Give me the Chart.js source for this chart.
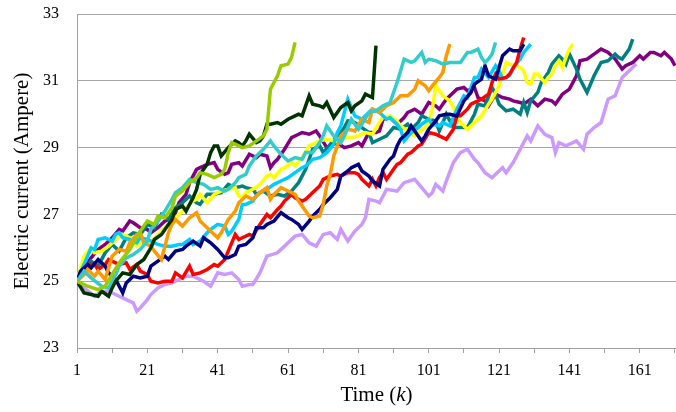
<!DOCTYPE html>
<html lang="en">
<head>
    <meta charset="UTF-8">
    <title>Electric current over time</title>
    <script src="https://cdn.jsdelivr.net/npm/chart.js"></script>
    <style>
        body { margin: 0; background: #fff; }
        #wrap { width: 676px; height: 412px; }
    </style>
</head>
<body>
<div id="wrap"><canvas id="currentChart"></canvas></div>

<script>
    // Measured runs: [time step k, current in A]
    const limeRun = [[1,25],[4,24.85],[7,24.75],[9,24.85],[11,25.2],[13,25.55],[16,25.95],[19,26.5],[21,26.8],[23,26.7],[24,26.95],[26,26.9],[28,27.2],[29,27.55],[31,27.7],[33,27.95],[35,28.1],[36,28.25],[38,28.2],[40,28.1],[42,28.2],[43,28.35],[44,28.85],[45,29.15],[47,29.05],[48,29],[50,29.05],[52,29.2],[54,29.35],[55,29.55],[56,30.75],[58,31.15],[59,31.45],[61,31.5],[62,31.7],[63,32.15]];
    const darkGreenRun = [[1,25],[3,24.65],[5,24.6],[7,24.55],[8,24.7],[10,24.55],[11,24.8],[12,25],[14,25.25],[16,25.2],[18,25.5],[20,25.65],[22,26],[23,26.25],[25,26.4],[27,26.7],[28,26.85],[29,27.15],[31,27.25],[32,27.1],[34,27.5],[35,27.75],[36,28.2],[38,28.5],[39,28.85],[40,29.05],[41,29.05],[42,28.75],[44,29],[46,29.2],[47,29.15],[48,29.05],[49,29.2],[50,29.4],[52,29.15],[53,29.2],[54,29.35],[55,29.7],[56,29.7],[58,29.75],[59,29.7],[61,29.85],[63,29.95],[64,30],[65,29.95],[67,30.55],[68,30.3],[70,30.25],[71,30.2],[72,30.35],[74,29.9],[76,30.2],[78,30.35],[79,30.1],[80,30.25],[82,30.4],[83,30.6],[85,30.5],[86,32.05]];
    const turquoiseRun = [[1,25],[3,25.3],[5,25.1],[8,24.85],[10,24.8],[12,25.2],[13,25.45],[15,25.7],[17,25.8],[19,25.95],[21,26.2],[22,26.55],[24,26.8],[26,27.1],[28,27.45],[29,27.65],[31,27.8],[33,28.05],[35,27.95],[37,27.9],[39,27.75],[41,27.8],[43,27.7],[44,27.75],[46,27.95],[47,28.1],[49,28.2],[50,28.45],[52,28.75],[54,28.95],[56,29.2],[57,29.05],[59,28.8],[61,28.6],[63,28.7],[65,28.65],[66,28.85],[68,28.85],[70,29.15],[71,29.35],[72,29.65],[74,29.35],[76,29.15],[77,29.35],[79,29.85],[81,29.55],[82,29.7],[84,30.05],[86,30.1],[88,30.25],[90,30.35],[91,30.65],[92,30.95],[94,31.65],[96,31.55],[97,31.6],[99,31.85],[100,31.55],[101,31.65],[103,31.6],[105,31.5],[107,31.55],[109,31.55],[110,31.55],[112,31.85],[113,31.85],[115,31.95],[116,31.7],[117,31.55],[118,31.65],[119,31.8],[120,32.15]];
    const orangeRun = [[1,25],[3,25.2],[4,25.35],[6,25.15],[7,25.3],[9,25.05],[10,25.4],[11,25.75],[13,25.95],[15,25.9],[16,26.15],[18,26.4],[19,26.45],[20,26.15],[22,26.05],[23,25.9],[25,25.65],[26,26.05],[27,26.45],[28,26.7],[29,26.85],[31,26.65],[33,26.9],[35,27.05],[36,26.8],[38,26.6],[40,26.4],[41,26.3],[42,26.45],[44,26.85],[46,27.1],[47,27.35],[49,27.55],[51,27.45],[53,27.65],[55,27.8],[56,27.45],[57,27.6],[59,27.8],[61,27.7],[63,27.6],[64,27.4],[66,27.1],[67,26.95],[68,26.9],[70,26.95],[71,27.3],[72,27.85],[73,28.2],[74,28.75],[76,29.35],[78,29.55],[80,29.5],[82,29.85],[84,29.75],[85,30.15],[87,30.05],[89,30.25],[91,30.35],[93,30.55],[95,30.55],[97,30.75],[98,31],[100,30.85],[101,30.7],[102,30.85],[104,31.1],[105,31.25],[106,31.75],[107,32.1]];
    const navyRun = [[1,25],[2,25.3],[4,25.5],[5,25.4],[7,25.65],[9,25.45],[10,25.25],[12,25.05],[14,24.65],[15,24.95],[17,25.15],[19,25.1],[21,25.15],[22,25.45],[24,25.6],[26,25.75],[27,25.65],[29,25.9],[31,25.95],[32,26.05],[34,26.2],[36,26.05],[37,26.3],[39,26.15],[41,25.95],[43,25.7],[44,25.7],[46,25.8],[47,26.05],[49,26.1],[51,26.3],[52,26.6],[54,26.6],[55,26.7],[57,26.8],[59,27.05],[61,26.9],[62,26.85],[64,26.7],[65,26.55],[67,26.8],[68,26.95],[70,27.15],[71,27.3],[73,27.5],[75,27.75],[76,28.15],[78,28.3],[79,28.4],[81,28.5],[82,28.3],[84,28.15],[85,28],[87,27.85],[88,28.35],[90,28.65],[91,28.75],[92,29.05],[93,29.25],[95,29.45],[96,29.65],[98,29.35],[99,29.2],[100,29.35],[101,29.55],[103,29.8],[104,29.95],[106,30],[107,30],[109,29.95],[111,30.4],[113,30.65],[114,30.9],[116,31.05],[117,31.45],[118,31.15],[120,31.05],[121,31.4],[122,31.75],[124,31.95],[125,31.9],[127,31.9],[128,32.1]];
    const redRun = [[1,25],[2,25.2],[4,25.5],[6,25.5],[7,25.35],[9,25.5],[10,25.65],[12,25.55],[13,25.5],[15,25.55],[16,25.35],[18,25.5],[19,25.3],[21,25.2],[22,25],[24,24.95],[26,25],[28,25],[29,25.25],[31,25.1],[33,25.45],[34,25.2],[36,25.25],[38,25.35],[40,25.5],[41,25.45],[43,25.65],[44,25.9],[46,26.4],[47,26.25],[48,26.3],[50,26.4],[51,26.35],[53,26.7],[55,27],[56,26.9],[58,27.15],[59,27.25],[60,27.4],[62,27.6],[63,27.5],[65,27.4],[66,27.45],[67,27.55],[69,27.75],[70,27.85],[71,28.05],[73,28.15],[75,28.2],[76,28.15],[78,28.25],[80,28.25],[81,28.2],[82,28.05],[84,27.85],[85,28.05],[86,27.85],[87,28.1],[88,28.25],[89,28.05],[91,28.35],[92,28.5],[93,28.55],[95,28.8],[96,28.85],[98,29.05],[99,29.1],[101,29.45],[103,29.4],[104,29.35],[106,29.25],[107,29.4],[108,29.55],[109,29.95],[110,29.95],[112,30.15],[113,30.3],[115,30.4],[116,30.45],[118,30.6],[119,30.95],[120,31.2],[121,31.05],[123,31.1],[124,31.2],[126,31.55],[127,31.95],[128,32.3]];
    const skyRun = [[1,25],[3,25.5],[5,26],[6,25.95],[7,26.25],[9,26.3],[11,26.2],[12,26.4],[13,26.45],[14,26.3],[16,26.25],[18,26.15],[19,26.3],[21,26.25],[22,26.2],[24,26.1],[26,26.05],[28,26.05],[30,26.1],[31,26.1],[33,26.25],[34,26.1],[36,26.2],[38,26.45],[39,26.55],[41,26.7],[43,26.65],[44,26.4],[45,26.5],[47,26.85],[48,27.3],[49,27.3],[51,27.4],[52,27.55],[53,27.65],[55,27.75],[57,27.9],[59,28],[61,28.1],[63,28.25],[65,28.4],[66,28.45],[68,28.65],[70,28.7],[72,28.85],[74,29.1],[75,29.45],[76,29.65],[77,30.05],[78,30.45],[79,30.2],[80,29.95],[82,29.85],[83,29.95],[85,30.15],[87,30.05],[89,29.85],[90,29.9],[92,29.7],[93,29.55],[94,29.2],[96,29.45],[98,29.6],[99,29.7],[101,29.85],[102,29.7],[104,29.65],[105,29.75],[107,29.65],[109,30.15],[111,30.55],[112,30.5],[114,31.1],[115,31.1],[116,31.35],[118,31.1],[120,31.45],[121,31.3],[122,31.05],[124,31.15],[125,31.4],[127,31.65],[128,31.85],[130,32.1]];
    const yellowRun = [[1,25],[3,25.75],[5,26],[6,25.85],[8,25.9],[10,26.05],[12,26.25],[14,26.4],[16,26.3],[18,26.05],[20,26.2],[22,26.15],[24,26.4],[26,26.6],[28,26.8],[30,27],[32,27.2],[34,27.4],[35,27.45],[36,27.6],[38,27.35],[40,27.6],[42,27.7],[44,27.75],[46,27.8],[47,27.55],[48,27.5],[49,27.65],[51,27.75],[53,27.9],[55,28.15],[56,28.2],[57,28.1],[59,28.35],[60,28.4],[62,28.55],[63,28.45],[65,28.7],[67,29.05],[68,29.1],[70,29.2],[72,29.25],[74,29.2],[76,29.15],[77,29.3],[79,29.3],[81,29.35],[83,29.45],[85,29.4],[87,29.75],[88,29.9],[90,29.95],[92,29.8],[93,29.65],[95,29.5],[97,29.35],[98,29.45],[100,29.6],[101,29.75],[102,30.15],[103,30.85],[104,30.7],[105,30.55],[107,30.4],[108,30.2],[109,29.95],[110,29.75],[112,29.55],[114,29.75],[116,29.95],[118,30.3],[119,30.45],[121,30.85],[122,31.2],[123,31.55],[124,31.5],[126,31.45],[127,31.4],[128,31.3],[129,30.95],[130,30.9],[131,31.2],[132,31.2],[134,30.95],[135,31.1],[136,31.2],[137,31.45],[138,31.6],[139,31.4],[140,31.7],[141,31.95],[142,32.1]];
    const tealRun = [[1,25],[3,25.3],[5,25.6],[7,25.45],[9,25.85],[11,26.1],[13,25.9],[15,26.3],[17,26.45],[19,26.4],[21,26.7],[23,26.6],[25,27],[27,26.85],[29,27.2],[31,27.35],[33,27.55],[35,27.35],[36,27.3],[38,27.6],[40,27.6],[42,27.65],[44,27.9],[46,27.8],[48,27.85],[49,27.8],[51,27.75],[52,27.6],[54,27.7],[56,27.55],[58,27.6],[60,27.55],[62,27.7],[64,27.95],[66,28.35],[68,28.95],[70,29.05],[71,28.85],[73,29.1],[75,29.35],[77,29.6],[78,29.8],[80,29.75],[82,29.6],[84,29.45],[85,29.15],[87,29.25],[89,29.35],[91,29.6],[93,29.55],[95,29.7],[96,29.55],[98,29.75],[99,29.95],[101,29.85],[103,29.8],[104,29.5],[106,30],[108,29.6],[110,29.6],[112,29.6],[114,30],[115,30.3],[117,30.25],[119,30.8],[120,30.6],[121,30.3],[123,30.1],[125,30.15],[127,30],[128,30.35],[129,30.05],[130,30.4],[132,30.65],[133,30.95],[135,31.25],[136,31.5],[138,31.75],[139,31.65],[140,31.5],[141,31.8],[143,31.35],[144,31.05],[146,30.65],[148,31.15],[150,31.55],[152,31.6],[154,31.8],[155,31.7],[156,31.65],[158,31.95],[159,32.25]];
    const purpleRun = [[1,25],[3,25.4],[5,25.7],[7,25.95],[9,26.1],[11,26.3],[13,26.55],[14,26.5],[16,26.8],[17,26.75],[19,26.6],[21,26.55],[22,26.45],[24,26.6],[26,26.8],[28,26.9],[29,27.05],[30,27.35],[32,27.6],[33,27.95],[35,28.35],[36,28.4],[37,28.45],[38,28.5],[40,28.55],[41,28.35],[43,28.2],[44,28.25],[45,28.5],[47,28.55],[48,28.45],[50,28.8],[52,28.7],[53,28.8],[55,28.75],[56,28.4],[57,28.55],[58,28.65],[60,28.95],[62,29.3],[64,29.4],[65,29.45],[67,29.4],[69,29.5],[70,29.35],[72,29],[74,29.1],[75,29.15],[77,29],[79,29.05],[81,29.15],[82,29.05],[84,29.45],[86,29.45],[87,29.5],[88,29.85],[90,29.9],[92,29.7],[94,29.9],[95,30.05],[97,30.15],[99,30],[101,30.35],[103,30.25],[104,30.15],[106,30.45],[108,30.65],[109,30.75],[111,30.8],[112,30.7],[113,30.75],[114,30.8],[115,30.5],[117,30.4],[118,30.25],[120,30.6],[122,30.5],[124,30.45],[125,30.4],[127,30.35],[128,30.3],[130,30.45],[132,30.25],[134,30.45],[136,30.4],[137,30.3],[139,30.6],[141,30.75],[143,31.15],[144,31.6],[146,31.65],[148,31.8],[150,31.95],[152,31.85],[154,31.65],[156,31.35],[157,31.45],[159,31.55],[161,31.75],[162,31.65],[164,31.85],[165,31.85],[167,31.75],[168,31.85],[170,31.65],[171,31.45]];
    const lavenderRun = [[1,25],[3,24.8],[6,24.55],[8,24.7],[10,24.7],[13,24.55],[15,24.45],[17,24.35],[18,24.1],[19,24.2],[21,24.45],[22,24.6],[24,24.8],[26,24.9],[28,24.95],[30,25.05],[32,25.15],[34,25.15],[35,25.1],[37,25],[39,24.85],[41,25.25],[43,25.2],[45,25.25],[47,25.05],[48,24.85],[50,24.9],[51,24.9],[53,25.25],[55,25.75],[58,25.85],[60,26.05],[63,26.35],[65,26.4],[67,26.15],[69,26.05],[71,26.4],[73,26.45],[75,26.25],[76,26.55],[78,26.2],[80,26.5],[82,26.7],[83,26.9],[84,27.45],[86,27.4],[87,27.35],[89,27.75],[92,27.7],[94,27.95],[97,28.05],[99,27.8],[101,27.55],[102,27.65],[103,27.9],[105,27.7],[106,28],[108,28.55],[110,28.85],[112,28.95],[114,28.65],[115,28.55],[117,28.25],[119,28.1],[120,28.2],[122,28.4],[123,28.25],[125,28.55],[127,28.95],[129,29.35],[130,29.2],[132,29.65],[134,29.4],[136,29.3],[137,28.85],[138,29.15],[140,29.05],[143,29.2],[145,28.95],[146,29.4],[148,29.6],[150,29.75],[152,30.45],[154,30.55],[156,31.1],[157,31.2],[158,31.3],[160,31.5]];

    const runs = [limeRun, darkGreenRun, turquoiseRun, orangeRun, navyRun, redRun, skyRun, yellowRun, tealRun, purpleRun, lavenderRun];
    const runColors = ['#99cc00', '#003300', '#33cccc', '#ff9900', '#000080', '#ff0000', '#00ccff', '#ffff00', '#008080', '#800080', '#cc99ff'];

    const yTicks = [23, 25, 27, 29, 31, 33];
    const xTicks = [1, 11, 21, 31, 41, 51, 61, 71, 81, 91, 101, 111, 121, 131, 141, 151, 161, 171];

    const serif = "'Liberation Serif', 'Times New Roman', serif";

    // axis titles drawn by hand so the k can be italic
    const axisTitles = {
        id: 'axisTitles',
        afterDraw(chart) {
            const ctx = chart.ctx;
            const area = chart.chartArea;
            ctx.save();
            ctx.fillStyle = '#000';
            ctx.textBaseline = 'middle';

            const parts = [['Time (', 'normal'], ['k', 'italic'], [')', 'normal']];
            let total = 0;
            parts.forEach(p => { ctx.font = p[1] + ' 21px ' + serif; total += ctx.measureText(p[0]).width; });
            let x = (area.left + area.right) / 2 - total / 2;
            ctx.textAlign = 'left';
            parts.forEach(p => {
                ctx.font = p[1] + ' 21px ' + serif;
                ctx.fillText(p[0], x, 395);
                x += ctx.measureText(p[0]).width;
            });

            ctx.translate(22, (area.top + area.bottom) / 2);
            ctx.rotate(-Math.PI / 2);
            ctx.textAlign = 'center';
            ctx.font = '21px ' + serif;
            ctx.fillText('Electric current (Ampere)', 0, 0);
            ctx.restore();
        }
    };

    new Chart(document.getElementById('currentChart'), {
        type: 'line',
        data: {
            datasets: runs.map((run, i) => ({
                data: run.map(p => ({ x: p[0], y: p[1] })),
                borderColor: runColors[i],
                borderWidth: 3.5,
                pointRadius: 0,
                tension: 0,
                fill: false
            }))
        },
        options: {
            responsive: true,
            maintainAspectRatio: false,
            animation: false,
            layout: { padding: { top: 14, right: 0, left: 0, bottom: 0 } },
            plugins: {
                legend: { display: false },
                tooltip: { enabled: false }
            },
            scales: {
                x: {
                    type: 'linear',
                    min: 1,
                    max: 171.3,
                    afterBuildTicks: s => { s.ticks = xTicks.map(v => ({ value: v })); },
                    afterFit: s => { s.height = 64; s.paddingLeft = 0; s.paddingRight = 0; },
                    ticks: {
                        autoSkip: false,
                        maxRotation: 0,
                        padding: 8,
                        color: '#000',
                        font: { family: serif, size: 16 },
                        callback: v => ((v - 1) % 20 === 0 ? v : '')
                    },
                    grid: { drawOnChartArea: false, tickLength: 5, color: '#a0a0a0' },
                    border: { color: '#a0a0a0' }
                },
                y: {
                    min: 23,
                    max: 33,
                    afterBuildTicks: s => { s.ticks = yTicks.map(v => ({ value: v })); },
                    afterFit: s => { s.width = 77; s.paddingTop = 0; s.paddingBottom = 0; },
                    ticks: {
                        padding: 18,
                        color: '#000',
                        font: { family: serif, size: 16 }
                    },
                    grid: { color: '#a6a6a6', drawTicks: false },
                    border: { color: '#a0a0a0' }
                }
            }
        },
        plugins: [axisTitles]
    });
</script>
</body>
</html>
